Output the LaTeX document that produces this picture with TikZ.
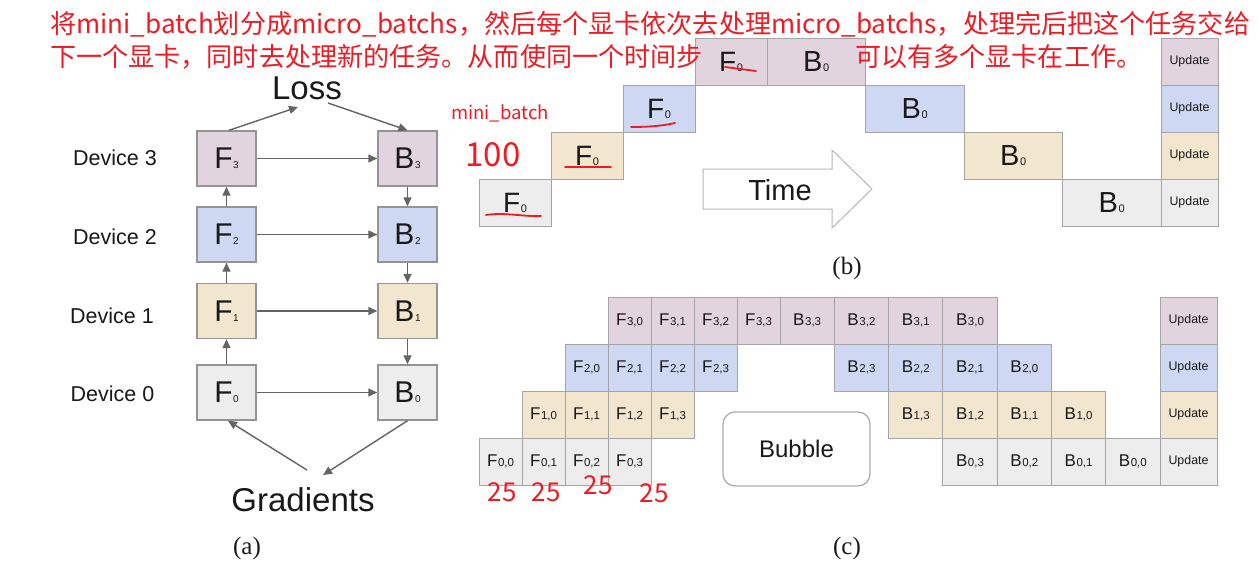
\documentclass[tikz,border=0pt]{standalone}
\usepackage{fontspec}
\setmainfont{Liberation Sans}
\newfontfamily\serifx{Liberation Serif}
\newfontfamily\cjk{Noto Sans CJK SC}
\usetikzlibrary{arrows.meta}
\definecolor{pinkc}{RGB}{226,212,222}
\definecolor{bluec}{RGB}{206,216,242}
\definecolor{tanc}{RGB}{242,230,206}
\definecolor{grayc}{RGB}{237,237,237}
\definecolor{borderc}{RGB}{165,165,165}
\definecolor{arrowc}{RGB}{100,100,100}
\definecolor{redc}{RGB}{236,28,36}
\definecolor{txtc}{RGB}{25,25,25}
\newcommand\lbl[4]{{\fontsize{#3}{#3}\selectfont #1}\kern0.6pt{\fontsize{#4}{#4}\selectfont #2}}
\begin{document}
\begin{tikzpicture}[x=1pt,y=-1pt,
  box/.style 2 args={draw=borderc, line width=1pt, inner sep=0pt, text=txtc,
     minimum width=#1, minimum height=#2},
  abox/.style={draw=borderc!90!black, line width=1.4pt, inner sep=0pt, text=txtc,
     minimum width=59pt, minimum height=55pt},
  arr/.style={draw=arrowc, line width=1.4pt, -{Triangle[length=9pt,width=8pt]}},
  dev/.style={font=\fontsize{21.5}{21.5}\selectfont, text=txtc, inner sep=0pt},
  big/.style={font=\fontsize{33}{33}\selectfont, text=txtc, inner sep=0pt},
  captxt/.style={font=\serifx\fontsize{25}{25}\selectfont, text=txtc, inner sep=0pt},
  redt/.style={text=redc, inner sep=0pt},
  redstroke/.style={draw=redc, line width=1.8pt, line cap=round}]
\useasboundingbox[fill=white] (0,0) rectangle (1258,571);

% ---------------- (a) ----------------
\node[abox, fill=pinkc] (F3) at (226.5,158.5) {\lbl{F}{3}{30}{10}};
\node[abox, fill=bluec] (F2) at (226.5,234.5) {\lbl{F}{2}{30}{10}};
\node[abox, fill=tanc]  (F1) at (226.5,311)   {\lbl{F}{1}{30}{10}};
\node[abox, fill=grayc] (F0) at (226.5,392.5) {\lbl{F}{0}{30}{10}};
\node[abox, fill=pinkc] (B3) at (407.5,158.5) {\lbl{B}{3}{30}{10}};
\node[abox, fill=bluec] (B2) at (407.5,234.5) {\lbl{B}{2}{30}{10}};
\node[abox, fill=tanc]  (B1) at (407.5,311)   {\lbl{B}{1}{30}{10}};
\node[abox, fill=grayc] (B0) at (407.5,392.5) {\lbl{B}{0}{30}{10}};

\node[dev] (d3) at (115,158) {Device 3};
\node[dev] (d2) at (115,237) {Device 2};
\node[dev] (d1) at (112,316) {Device 1};
\node[dev] (d0) at (112.5,394) {Device 0};

\node[big] (loss) at (307,88) {Loss};
\node[big] (grad) at (303,500) {Gradients};
\coordinate (lossin) at (298,107);
\coordinate (lossout) at (328,103);
\coordinate (gradout) at (307,470);
\coordinate (gradin) at (323,475);

\draw[arr] ([xshift=2.5pt]F3.north) -- (lossin);
\draw[arr] (lossout) -- (B3.north);
\draw[arr] (F0) -- (F1);
\draw[arr] (F1) -- (F2);
\draw[arr] (F2) -- (F3);
\draw[arr] (B3) -- (B2);
\draw[arr] (B2) -- (B1);
\draw[arr] (B1) -- (B0);
\draw[arr] (F3) -- (B3);
\draw[arr] (F2) -- (B2);
\draw[arr] (F1) -- (B1);
\draw[arr] (F0) -- (B0);
\draw[arr] (gradout) -- ([xshift=1.5pt]F0.south);
\draw[arr] (B0.south) -- (gradin);

\node[captxt] (capa) at (247,548) {(a)};

% ---------------- (b) ----------------
\node[box={72pt}{47pt}, fill=grayc] (bF0) at (515,202.5) {\lbl{F}{0}{28}{11}};
\node[box={72pt}{47pt}, fill=tanc]  (bF1) at (587,155.5) {\lbl{F}{0}{28}{11}};
\node[box={72pt}{47pt}, fill=bluec] (bF2) at (659,108.5) {\lbl{F}{0}{28}{11}};
\node[box={72pt}{47pt}, fill=pinkc] (bF3) at (731,61.5)  {\lbl{F}{0}{28}{11}};
\node[box={98.5pt}{47pt}, fill=pinkc] (bB3) at (816.25,61.5)  {\lbl{B}{0}{29}{11}};
\node[box={98.5pt}{47pt}, fill=bluec] (bB2) at (914.75,108.5) {\lbl{B}{0}{29}{11}};
\node[box={98.5pt}{47pt}, fill=tanc]  (bB1) at (1013.25,155.5) {\lbl{B}{0}{29}{11}};
\node[box={98.5pt}{47pt}, fill=grayc] (bB0) at (1111.75,202.5) {\lbl{B}{0}{29}{11}};
\node[box={57pt}{47pt}, fill=pinkc] (bU3) at (1189.5,61.5)  {\fontsize{12.4}{12.4}\selectfont Update};
\node[box={57pt}{47pt}, fill=bluec] (bU2) at (1189.5,108.5) {\fontsize{12.4}{12.4}\selectfont Update};
\node[box={57pt}{47pt}, fill=tanc]  (bU1) at (1189.5,155.5) {\fontsize{12.4}{12.4}\selectfont Update};
\node[box={57pt}{47pt}, fill=grayc] (bU0) at (1189.5,202.5) {\fontsize{12.4}{12.4}\selectfont Update};

\draw[draw=borderc!80, line width=1pt, fill=white]
  (703,169) -- (832,169) -- (832,150) -- (872,189) -- (832,228) -- (832,209) -- (703,209) -- cycle;
\node[font=\fontsize{29}{29}\selectfont, text=txtc, inner sep=0pt] (time) at (780,190) {Time};

\node[captxt] (capb) at (847,268) {(b)};

% ---------------- (c) ----------------
\foreach \r/\col in {3/pinkc,2/bluec,1/tanc,0/grayc}{
  \pgfmathsetmacro\yy{320.5+47*(3-\r)}
  \foreach \j in {0,...,3}{
    \pgfmathsetmacro\xf{500.5+43*(\r+\j)}
    \node[box={43pt}{47pt}, fill=\col] (cf\r\j) at (\xf,\yy) {\lbl{F}{\r,\j}{17}{11.5}};
    \pgfmathsetmacro\xb{807.14+54.286*(6-\j-\r)}
    \node[box={54.3pt}{47pt}, fill=\col] (cb\r\j) at (\xb,\yy) {\lbl{B}{\r,\j}{17}{11.5}};
  }
  \node[box={57pt}{47pt}, fill=\col] (cu\r) at (1188.5,\yy) {\fontsize{12.4}{12.4}\selectfont Update};
}
\node[draw=borderc!90, line width=1.3pt, rounded corners=12pt, minimum width=147pt,
      minimum height=74pt, inner sep=0pt, text=txtc, font=\fontsize{24}{24}\selectfont]
      (bubble) at (796.5,449) {Bubble};

\node[captxt] (capc) at (847,548) {(c)};

% ---------------- red annotations ----------------
\draw[redstroke] (486,215) .. controls (505,212) and (525,217) .. (541,216);
\draw[redstroke] (565,167) -- (611,167);
\draw[redstroke] (631,127) .. controls (648,127) and (662,126) .. (675,123);
\draw[redstroke] (725,67) -- (756,71);

\node[redt, font=\cjk\fontsize{18.5}{18.5}\selectfont] (mb) at (500,113) {mini\_batch};
\node[redt, font=\cjk\fontsize{33}{33}\selectfont] (hund) at (493,155) {100};
\node[redt, font=\cjk\fontsize{26}{26}\selectfont] (n1) at (502,492) {25};
\node[redt, font=\cjk\fontsize{26}{26}\selectfont] (n2) at (546,492) {25};
\node[redt, font=\cjk\fontsize{26}{26}\selectfont] (n3) at (598,485) {25};
\node[redt, font=\cjk\fontsize{26}{26}\selectfont] (n4) at (654,493) {25};

\node[redt, anchor=base west, font=\cjk\fontsize{26.1}{26.1}\selectfont] (line1) at (50,33)
  {将mini\_batch划分成micro\_batchs，然后每个显卡依次去处理micro\_batchs，处理完后把这个任务交给};
\node[redt, anchor=base west, font=\cjk\fontsize{26.1}{26.1}\selectfont] (line2a) at (50,66)
  {下一个显卡，同时去处理新的任务。从而使同一个时间步};
\node[redt, anchor=base west, font=\cjk\fontsize{26.1}{26.1}\selectfont] (line2b) at (855,66)
  {可以有多个显卡在工作。};
\end{tikzpicture}
\end{document}
